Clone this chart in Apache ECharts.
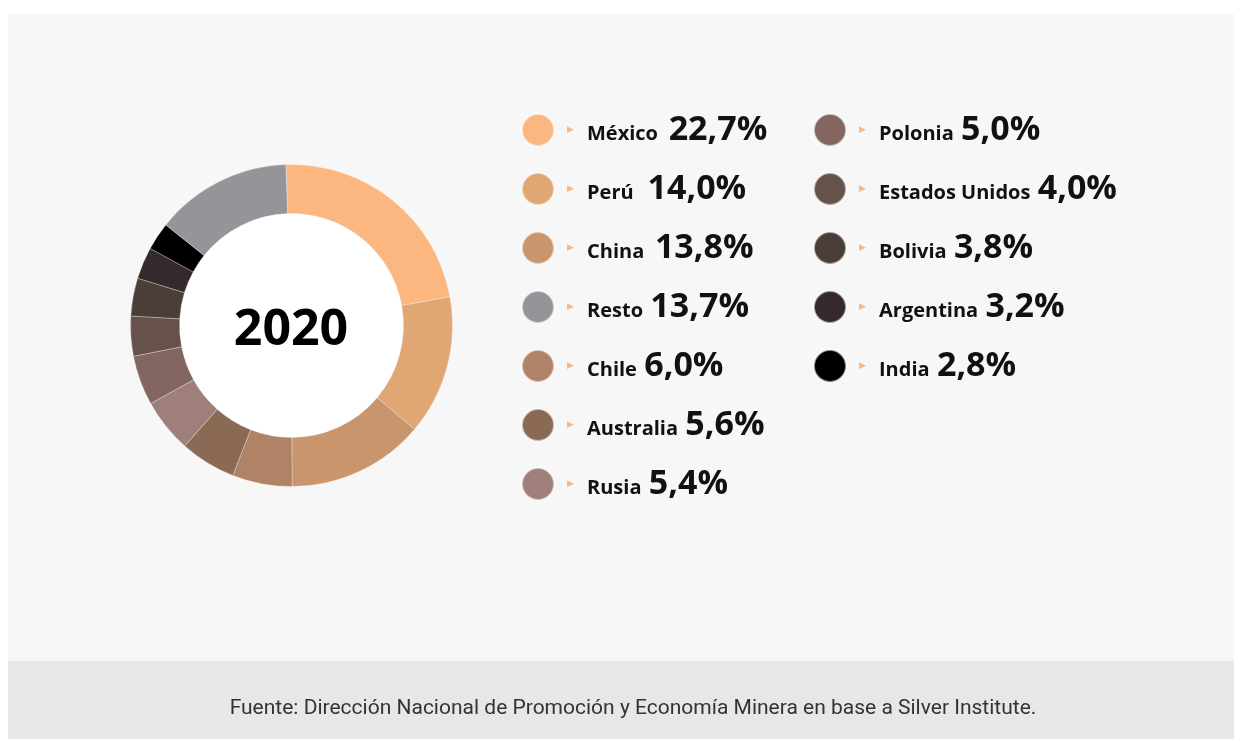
<!DOCTYPE html>
<html>
<head>
<meta charset="utf-8">
<script src="https://cdn.jsdelivr.net/npm/echarts@6/dist/echarts.min.js"></script>
<style>
  html, body { margin: 0; padding: 0; background: #ffffff; }
  #chart { width: 1234px; height: 740px; }
</style>
</head>
<body>
<div id="chart"></div>
<script>
// Silver production share by country, 2020 (%)
const countries = ['México', 'Perú', 'China', 'Chile', 'Australia', 'Rusia', 'Polonia',
                   'Estados Unidos', 'Bolivia', 'Argentina', 'India', 'Resto'];
const shares = [22.7, 14.0, 13.8, 6.0, 5.6, 5.4, 5.0, 4.0, 3.8, 3.2, 2.8, 13.7];

// legend columns
const legendColA = ['México', 'Perú', 'China', 'Resto', 'Chile', 'Australia', 'Rusia'];
const legendColB = ['Polonia', 'Estados Unidos', 'Bolivia', 'Argentina', 'India'];

const year = '2020';
const sourceNote = 'Fuente: Dirección Nacional de Promoción y Economía Minera en base a Silver Institute.';

// slice colours, same order as countries
const palette = ['#fbb77f', '#e0a674', '#c9956d', '#b08266', '#8b6a55', '#9e7f79', '#82665f',
                 '#66524a', '#4b3d38', '#342a2c', '#000000', '#939598'];

// extra spaces between name and value for a few rows
const nameGap = { 'México': '  ', 'Perú': '   ', 'China': '  ' };

const valueOf = {};
countries.forEach((c, i) => { valueOf[c] = shares[i]; });
const fmt = v => v.toFixed(1).replace('.', ',') + '%';

const richStyles = {
  arr: { color: '#fbb77f', fontSize: 9, padding: [0, 13, 0, 8], verticalAlign: 'middle', lineHeight: 34 },
  name: { fontFamily: 'Open Sans', fontWeight: 700, fontSize: 20, color: '#111', lineHeight: 34,
          verticalAlign: 'bottom', padding: [0, 4, 3, 0] },
  val: { fontFamily: 'Open Sans', fontWeight: 700, fontSize: 34, color: '#111', lineHeight: 34,
         verticalAlign: 'bottom' }
};

function legendFor(names, left) {
  return {
    orient: 'vertical',
    left: left,
    top: 113,
    padding: 0,
    itemGap: 25,
    itemWidth: 32,
    itemHeight: 32,
    itemTextGap: 5,
    icon: 'circle',
    selectedMode: false,
    data: names,
    formatter: n => '{arr|▶}{name|' + n + '}' + (nameGap[n] || ' ') + '{val|' + fmt(valueOf[n]) + '}',
    textStyle: { rich: richStyles }
  };
}

const chart = echarts.init(document.getElementById('chart'), null, { renderer: 'canvas' });

chart.setOption({
  animation: false,
  color: palette,
  graphic: [
    { type: 'rect', z: -10, shape: { x: 8, y: 14, width: 1226, height: 647 }, style: { fill: '#f7f7f7' } },
    { type: 'rect', z: -10, shape: { x: 8, y: 661, width: 1226, height: 78 }, style: { fill: '#e6e7e8' } },
    { type: 'circle', z: -5, shape: { cx: 291.5, cy: 325.5, r: 112 }, style: { fill: '#ffffff' } },
    {
      type: 'text', x: 633, y: 709,
      style: { text: sourceNote, fontFamily: 'Roboto', fontSize: 21, fill: '#333333',
               textAlign: 'center', textVerticalAlign: 'middle' }
    },
    {
      type: 'text', x: 291, y: 331,
      style: { text: year, fontFamily: 'Open Sans', fontWeight: 700, fontSize: 50, fill: '#000000',
               textAlign: 'center', textVerticalAlign: 'middle' }
    }
  ],
  legend: [legendFor(legendColA, 521), legendFor(legendColB, 813)],
  series: [{
    type: 'pie',
    center: [291.5, 325.5],
    radius: [112, 161],
    startAngle: 92,
    clockwise: true,
    silent: true,
    label: { show: false },
    labelLine: { show: false },
    itemStyle: { borderColor: 'rgba(255,255,255,0.5)', borderWidth: 0.6 },
    data: countries.map((c, i) => ({ name: c, value: shares[i] }))
  }]
});
</script>
</body>
</html>
